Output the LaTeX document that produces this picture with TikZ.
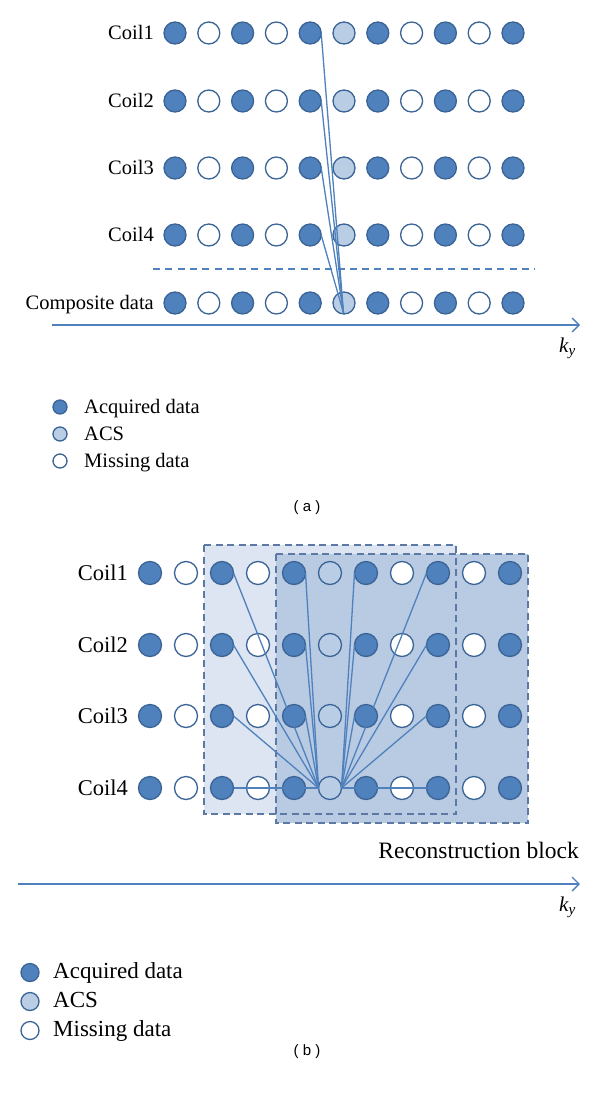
\documentclass[tikz,border=0pt]{standalone}
\usepackage{fontspec}
\setmainfont{Liberation Serif}
\newfontfamily\capfont{Liberation Sans}
\usetikzlibrary{arrows.meta}
\definecolor{acq}{HTML}{4F81BD}
\definecolor{acs}{HTML}{B9CDE5}
\definecolor{rim}{HTML}{3B6496}
\definecolor{lnc}{HTML}{4F81BD}
\definecolor{boxa}{HTML}{DCE5F1}
\definecolor{boxb}{HTML}{B9CBE3}
\definecolor{boxrim}{HTML}{5C79A3}
\tikzset{
  dot/.style={circle, inner sep=0pt, outer sep=0pt, line width=1.3pt, draw=rim},
  acqd/.style={dot, fill=acq},
  acsd/.style={dot, fill=acs},
  misd/.style={dot, fill=white},
  conn/.style={draw=lnc, line width=1.3pt},
  axis/.style={draw=lnc, line width=1.4pt, -{Straight Barb[length=7pt,width=14pt,line width=1.4pt]}},
  txta/.style={inner sep=0pt, font=\fontsize{20.5}{24}\selectfont},
  txtb/.style={inner sep=0pt, font=\fontsize{22.5}{26}\selectfont},
  capt/.style={inner sep=0pt, font=\capfont\fontsize{15}{18}\selectfont},
  kyl/.style={inner sep=0pt, font=\fontsize{21}{24}\selectfont\itshape},
}
\begin{document}
\begin{tikzpicture}[x=1pt,y=-1pt]
\useasboundingbox (0,0) rectangle (600,1097);
\fill[white] (0,0) rectangle (600,1097);

% ---------------- part (a) ----------------
\foreach \r/\y in {1/33,2/101,3/168,4/235,5/303} {
  \foreach \c/\t in {1/acqd,2/misd,3/acqd,4/misd,5/acqd,6/acsd,7/acqd,8/misd,9/acqd,10/misd,11/acqd} {
    \node[\t, minimum size=22pt] (a\r-\c) at ({175+33.8*(\c-1)},\y) {};
  }
}
\foreach \r/\y/\s in {1/33/Coil1,2/101/Coil2,3/168/Coil3,4/235/Coil4,5/303/Composite data} {
  \node[txta, anchor=base east] (la\r) at (154,\y+6.5) {\s};
}
\coordinate (dl0) at (153,269);
\coordinate (dl1) at (535,269);
\draw[lnc, line width=1.2pt, dash pattern=on 7pt off 5.3pt] (dl0) -- (dl1);
\coordinate (atg) at (343.5,313);
\foreach \r in {1,...,4} { \draw[conn] (a\r-5.east) -- (atg); }
\coordinate (axa0) at (52,325);
\coordinate (axa1) at (580,325);
\draw[axis] (axa0) -- (axa1);
\node[kyl, anchor=base west] (kya) at (559,352) {k\raisebox{-3.5pt}{\fontsize{15}{15}\selectfont y}};

% legend (a)
\node[acqd, minimum size=14pt] (lga1) at (60,407) {};
\node[acsd, minimum size=14pt] (lga2) at (60,434) {};
\node[misd, minimum size=14pt] (lga3) at (60,461) {};
\node[txta, anchor=base west] (lta1) at (84,413) {Acquired data};
\node[txta, anchor=base west] (lta2) at (84,440) {ACS};
\node[txta, anchor=base west] (lta3) at (84,467) {Missing data};
\node[capt] (capa) at (307,508) {( a )};

% ---------------- part (b) ----------------
\fill[boxa] (204,545) rectangle (456,814);
\fill[boxb] (276,554) rectangle (528,823);
\draw[boxrim, line width=1.3pt, dash pattern=on 7pt off 4.5pt] (204,545) rectangle (456,814);
\draw[boxrim, line width=1.3pt, dash pattern=on 7pt off 4.5pt] (276,554) rectangle (528,823);

\foreach \r/\y in {1/573,2/645,3/716,4/788} {
  \foreach \c/\t in {1/acqd,2/misd,3/acqd,4/misd,5/acqd,6/acsd,7/acqd,8/misd,9/acqd,10/misd,11/acqd} {
    \node[\t, minimum size=23pt] (b\r-\c) at ({150+36*(\c-1)},\y) {};
  }
  \node[txtb, anchor=base east] (lb\r) at (128,\y+7) {Coil\r};
}
\foreach \r/\c in {1/3,2/3,3/3,1/5,2/5,3/5,4/3} { \draw[conn] (b\r-\c.east) -- (b4-6.west); }
\foreach \r/\c in {1/7,2/7,3/7,1/9,2/9,3/9,4/9} { \draw[conn] (b\r-\c.west) -- (b4-6.east); }

\node[txtb, anchor=base east, font=\fontsize{23.5}{26}\selectfont] (rb) at (579,858) {Reconstruction block};
\coordinate (axb0) at (18,884);
\coordinate (axb1) at (580,884);
\draw[axis] (axb0) -- (axb1);
\node[kyl, anchor=base west] (kyb) at (559,911) {k\raisebox{-3.5pt}{\fontsize{15}{15}\selectfont y}};

% legend (b)
\node[acqd, minimum size=18pt] (lgb1) at (30,972.5) {};
\node[acsd, minimum size=18pt] (lgb2) at (30,1001.5) {};
\node[misd, minimum size=18pt] (lgb3) at (30,1030.5) {};
\node[txtb, font=\fontsize{23}{26}\selectfont, anchor=base west] (ltb1) at (53,978) {Acquired data};
\node[txtb, font=\fontsize{23}{26}\selectfont, anchor=base west] (ltb2) at (53,1007) {ACS};
\node[txtb, font=\fontsize{23}{26}\selectfont, anchor=base west] (ltb3) at (53,1036) {Missing data};
\node[capt] (capb) at (307,1052) {( b )};
\end{tikzpicture}
\end{document}
